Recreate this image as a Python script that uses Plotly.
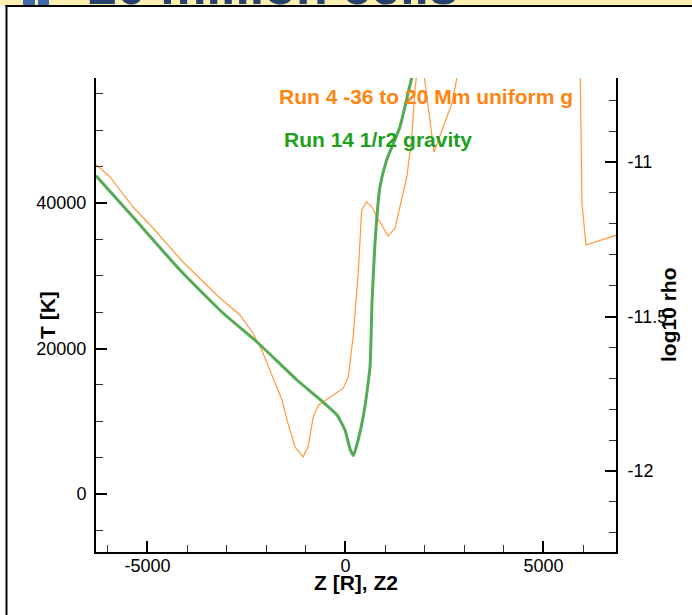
import plotly.graph_objects as go

# Run 4: -36 to 20 Mm domain, uniform gravity  (temperature along Z)
z_run4 = [-6300, -5947, -5366, -4861, -4104, -3169, -2664, -2336, -2083, -1831,
          -1604, -1477, -1275, -1070, -947, -813, -687, -475, -56, 71,
          197, 323, 409, 535, 669, 788, 1077, 1250, 1549, 1675,
          1755, 1880, 2235, 2689, 2891, 4000, 5910, 5972, 6073, 6850]
t_run4 = [45300, 43574, 39450, 36564, 31890, 26942, 24605, 22131, 19381, 16082,
          12921, 10172, 6460, 5100, 6460, 10600, 12200, 13000, 14550, 16100,
          21800, 30500, 39040, 40160, 39450, 38100, 35460, 36540, 43600, 49100,
          55530, 62000, 47010, 53746, 59656, 90000, 65000, 40000, 34227, 35600]

# Run 14: 1/r^2 gravity
z_run14 = [-6300, -5366, -4179, -3093, -2235, -1225, -568, -215, -13, 120,
           200, 280, 470, 619, 669, 745, 871, 1040, 1376, 1672, 1800]
t_run14 = [43750, 38076, 30790, 24880, 20893, 15670, 12646, 10859, 8797, 6100,
           5300, 6600, 11300, 17457, 26210, 34500, 42240, 45910, 50490, 57140, 59000]

# axis ranges and tick labels
x_range = [-6300, 6831]
t_range = [-7973, 57182]
rho_range = [-12.262, -10.728]

x_tickvals = [-5000, 0, 5000]
x_ticktext = ["-5000", "0", "5000"]
t_tickvals = [0, 20000, 40000]
t_ticktext = ["0", "20000", "40000"]
rho_tickvals = [-12, -11.5, -11]
rho_ticktext = ["-12", "-11.5", "-11"]

FONT = "Liberation Sans, Arial, Helvetica, sans-serif"
W, H = 692, 615
ML, MR, MT, MB = 96, 76, 78, 63
PW, PH = W - ML - MR, H - MT - MB


def px_x(px):
    return (px - ML) / PW


def px_y(py):
    return (H - MB - py) / PH


fig = go.Figure()
fig.add_trace(go.Scatter(x=z_run4, y=t_run4, mode="lines",
                         line=dict(color="#ff9a3c", width=1.2),
                         name="Run 4 -36 to 20 Mm uniform g", showlegend=False))
fig.add_trace(go.Scatter(x=z_run14, y=t_run14, mode="lines",
                         line=dict(color="#55aa55", width=3, shape="spline", smoothing=0.5),
                         name="Run 14 1/r2 gravity", showlegend=False))
# density axis (no density curve falls inside the window)
fig.add_trace(go.Scatter(x=[], y=[], yaxis="y2", mode="lines",
                         showlegend=False, hoverinfo="skip"))

tick_font = dict(family=FONT, size=18, color="black")
common = dict(showline=True, linecolor="black", linewidth=2, showgrid=False,
              zeroline=False, ticks="inside", ticklen=11, tickwidth=2,
              tickcolor="black", tickfont=tick_font, mirror=False,
              tickmode="array")


def minor(step, start):
    return dict(tickmode="linear", tick0=start, dtick=step, ticks="inside",
                ticklen=7, tickwidth=1, tickcolor="#333", showgrid=False)


fig.update_layout(
    width=W, height=H,
    margin=dict(l=ML, r=MR, t=MT, b=MB, autoexpand=False),
    paper_bgcolor="white", plot_bgcolor="white",
    xaxis=dict(range=x_range, tickvals=x_tickvals, ticktext=x_ticktext,
               minor=minor(1000, 0), ticklabelstandoff=-4, **common),
    yaxis=dict(range=t_range, tickvals=t_tickvals, ticktext=t_ticktext,
               minor=minor(5000, 0), ticklabelstandoff=4, **common),
    yaxis2=dict(range=rho_range, tickvals=rho_tickvals, ticktext=rho_ticktext,
                overlaying="y", side="right", anchor="x",
                minor=minor(0.1, -12), ticklabelstandoff=6, **common),
)

# header strip and frame
shapes = [
    dict(type="rect", xref="paper", yref="paper", x0=px_x(0), x1=px_x(W),
         y0=px_y(5.5), y1=px_y(-2), fillcolor="#fbf0b0", line=dict(width=0)),
    dict(type="rect", xref="paper", yref="paper", x0=px_x(23), x1=px_x(35),
         y0=px_y(5.5), y1=px_y(-2), fillcolor="#3f6aa8", line=dict(width=0)),
    dict(type="rect", xref="paper", yref="paper", x0=px_x(38), x1=px_x(49),
         y0=px_y(5.5), y1=px_y(-2), fillcolor="#3f6aa8", line=dict(width=0)),
    dict(type="line", xref="paper", yref="paper", x0=px_x(5.5), x1=px_x(W + 2),
         y0=px_y(6), y1=px_y(6), line=dict(color="black", width=2)),
    dict(type="line", xref="paper", yref="paper", x0=px_x(6.5), x1=px_x(6.5),
         y0=px_y(5), y1=px_y(H + 2), line=dict(color="black", width=2)),
]
for s in shapes:
    s["layer"] = "above"
fig.update_layout(shapes=shapes)

annotations = [
    dict(text="<b>20 million cells</b>", xref="paper", yref="paper",
         x=px_x(86), y=px_y(17), xanchor="left", yanchor="bottom", showarrow=False,
         font=dict(family=FONT, size=52, color="#26416c")),
    dict(text="<b>Run 4 -36 to 20 Mm uniform g</b>", xref="paper", yref="paper",
         x=px_x(277), y=px_y(97), xanchor="left", yanchor="middle", showarrow=False,
         font=dict(family=FONT, size=21, color="#ff8410")),
    dict(text="<b>Run 14 1/r2 gravity</b>", xref="paper", yref="paper",
         x=px_x(282), y=px_y(140), xanchor="left", yanchor="middle", showarrow=False,
         font=dict(family=FONT, size=21, color="#20a020")),
    dict(text="<b>T [K]</b>", xref="paper", yref="paper", x=px_x(47), y=0.5,
         xanchor="center", yanchor="middle", textangle=-90, showarrow=False,
         font=dict(family=FONT, size=21, color="black")),
    dict(text="<b>log10 rho</b>", xref="paper", yref="paper", x=px_x(668), y=0.5,
         xanchor="center", yanchor="middle", textangle=-90, showarrow=False,
         font=dict(family=FONT, size=21, color="black")),
    dict(text="<b>Z [R], Z2</b>", xref="paper", yref="paper", x=0.5, y=px_y(582),
         xanchor="center", yanchor="middle", showarrow=False,
         font=dict(family=FONT, size=21, color="black")),
]
fig.update_layout(annotations=annotations)

fig.write_html("out.html")
